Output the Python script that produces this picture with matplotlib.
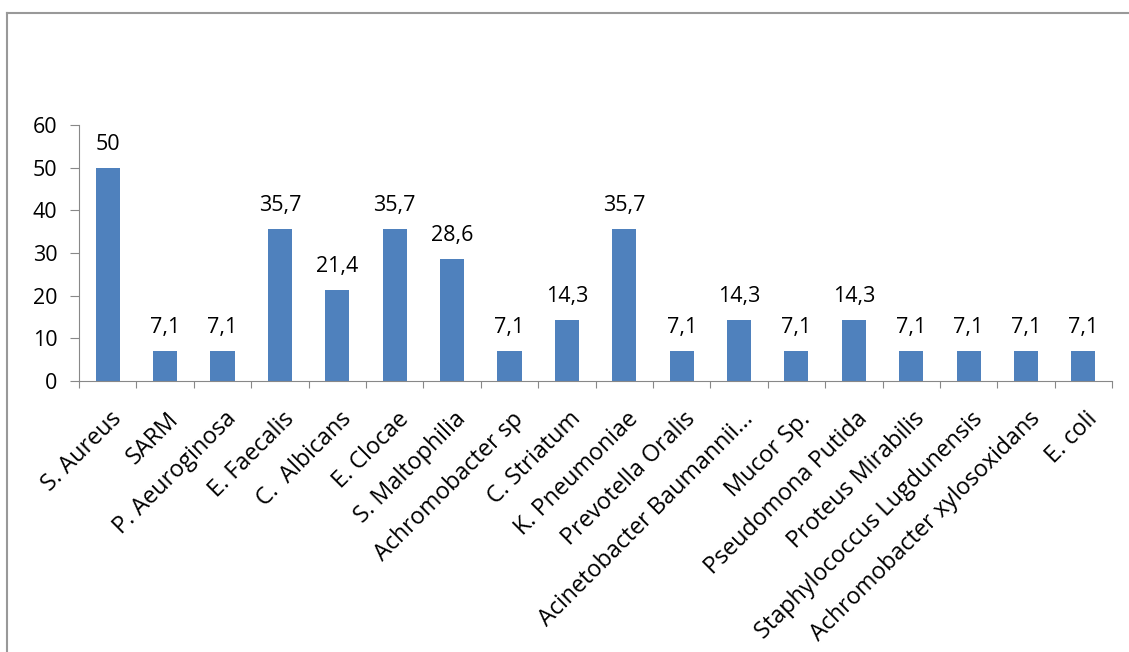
import matplotlib.pyplot as plt
from matplotlib.lines import Line2D
from matplotlib.transforms import ScaledTranslation

# Data (percentages)
species = [
    "S. Aureus", "SARM", "P. Aeuroginosa", "E. Faecalis", "C.  Albicans",
    "E. Clocae", "S. Maltophilia", "Achromobacter sp", "C. Striatum",
    "K. Pneumoniae", "Prevotella Oralis", "Acinetobacter Baumannii...",
    "Mucor Sp.", "Pseudomona Putida", "Proteus Mirabilis",
    "Staphylococcus Lugdunensis", "Achromobacter xylosoxidans", "E. coli",
]
values = [50, 7.1, 7.1, 35.7, 21.4, 35.7, 28.6, 7.1, 14.3,
          35.7, 7.1, 14.3, 7.1, 14.3, 7.1, 7.1, 7.1, 7.1]
y_ticks = [0, 10, 20, 30, 40, 50, 60]

plt.rcParams['font.family'] = ['Open Sans', 'DejaVu Sans']

fig = plt.figure(figsize=(11.29, 6.52), dpi=100)
ax = fig.add_axes([0.070, 0.416, 0.915, 0.392])

x = list(range(len(species)))
bars = ax.bar(x, values, width=0.42, color="#4F81BD", zorder=2)

# value labels with decimal comma
for rect, v in zip(bars, values):
    txt = f"{v:g}".replace(".", ",")
    ax.annotate(txt, (rect.get_x() + rect.get_width() / 2, v),
                xytext=(0, 9), textcoords="offset points",
                ha="center", va="bottom", fontsize=15.5, color="black")

ax.set_xlim(-0.5, len(species) - 0.5)
ax.set_ylim(0, 60)
ax.set_yticks(y_ticks)
ax.tick_params(axis="y", labelsize=15.5, length=6.5, color="#888888", pad=9)

# category ticks sit between the bars
ax.set_xticks([i - 0.5 for i in range(len(species) + 1)], minor=False)
ax.set_xticklabels([])
ax.tick_params(axis="x", length=5, color="#888888")
ax.set_xticks(x, minor=True)
ax.set_xticklabels(species, minor=True, rotation=45, ha="right",
                   rotation_mode="anchor", fontsize=16.8)
ax.tick_params(axis="x", which="minor", length=0, pad=19)
shift = ScaledTranslation(2 / 100, 0, fig.dpi_scale_trans)
for lbl in ax.get_xticklabels(minor=True):
    lbl.set_transform(lbl.get_transform() + shift)

for side in ["top", "right"]:
    ax.spines[side].set_visible(False)
for side in ["left", "bottom"]:
    ax.spines[side].set_color("#888888")

# outer frame of the chart area
fig.add_artist(Line2D([0.006, 1.0], [0.980, 0.980], transform=fig.transFigure,
                      color="#999999", lw=1.5))
fig.add_artist(Line2D([0.006, 0.006], [0.0, 0.980], transform=fig.transFigure,
                      color="#999999", lw=1.5))

fig.savefig("out.png", dpi=100)
